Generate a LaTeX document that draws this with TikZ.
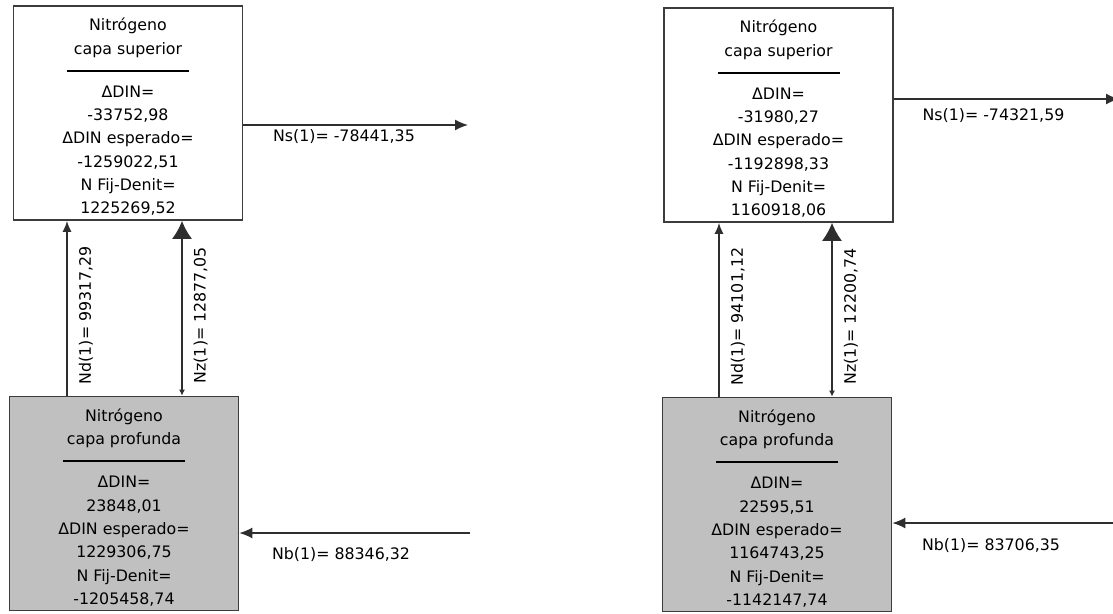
\documentclass[tikz,border=0pt]{standalone}
\usepackage{fontspec}
\setmainfont{DejaVu Sans}
\usetikzlibrary{positioning,arrows.meta}
\definecolor{borde}{HTML}{3C3C3C}
\definecolor{gris}{HTML}{C0C0C0}
\definecolor{linea}{HTML}{2E2E2E}

\begin{document}
\begin{tikzpicture}[x=1pt,y=-1pt,
   capa/.style={draw=borde, line width=1.7pt, minimum width=229pt, minimum height=214pt, inner sep=0pt},
   profunda/.style={capa, fill=gris},
   txt/.style={align=center, inner sep=0pt, font=\fontsize{15.8}{23.3}\selectfont},
   flujo/.style={draw=linea, line width=1.5pt},
   lbl/.style={inner sep=0pt, font=\fontsize{15.8}{18}\selectfont},
   chica/.style={-{Latex[length=11pt,width=9pt]}},
   doble/.style={{Latex[length=6pt,width=6pt]}-{Latex[length=18pt,width=20pt]}},
   lateral/.style={-{Latex[length=13pt,width=11pt]}}]

\useasboundingbox (0,0) rectangle (1113,613);

% cajas
\node[capa] (supA) at (128,113) {};
\node[profunda] (prA) at (124,503.5) {};
\node[capa] (supB) at (778.5,115) {};
\node[profunda] (prB) at (777,504.5) {};

\node[txt, below=13pt of supA.north] (supAt) {Nitrógeno\\capa superior\\\rule[5.8pt]{122pt}{1.8pt}\\[-3.5pt]ΔDIN=\\-33752,98\\ΔDIN esperado=\\-1259022,51\\N Fij-Denit=\\1225269,52};
\node[txt, below=13pt of prA.north] (prAt) {Nitrógeno\\capa profunda\\\rule[5.8pt]{122pt}{1.8pt}\\[-3.5pt]ΔDIN=\\23848,01\\ΔDIN esperado=\\1229306,75\\N Fij-Denit=\\-1205458,74};
\node[txt, below=13pt of supB.north] (supBt) {Nitrógeno\\capa superior\\\rule[5.8pt]{122pt}{1.8pt}\\[-3.5pt]ΔDIN=\\-31980,27\\ΔDIN esperado=\\-1192898,33\\N Fij-Denit=\\1160918,06};
\node[txt, below=13pt of prB.north] (prBt) {Nitrógeno\\capa profunda\\\rule[5.8pt]{122pt}{1.8pt}\\[-3.5pt]ΔDIN=\\22595,51\\ΔDIN esperado=\\1164743,25\\N Fij-Denit=\\-1142147,74};

\coordinate (ndA) at (67,0);
\coordinate (nzA) at (182,0);
\coordinate (ndB) at (719,0);
\coordinate (nzB) at (832,0);
\coordinate (nsA) at (468,125);
\coordinate (nsB) at (1119,99);
\coordinate (nbA) at (470,533);
\coordinate (nbB) at (1116,523);

% flujos verticales
\draw[flujo, chica] (ndA |- prA.north) -- node[lbl, sloped, pos=0.46, below=11pt] (ndAl) {Nd(1)= 99317,29} (ndA |- supA.south);
\draw[flujo, doble] (nzA |- prA.north) -- node[lbl, sloped, pos=0.46, below=11pt] (nzAl) {Nz(1)= 12877,05} (nzA |- supA.south);
\draw[flujo, chica] (ndB |- prB.north) -- node[lbl, sloped, pos=0.46, below=11pt] (ndBl) {Nd(1)= 94101,12} (ndB |- supB.south);
\draw[flujo, doble] (nzB |- prB.north) -- node[lbl, sloped, pos=0.46, below=11pt] (nzBl) {Nz(1)= 12200,74} (nzB |- supB.south);

% flujos laterales
\draw[flujo, lateral] (nsA -| supA.east) -- node[lbl, at start, anchor=north west, xshift=29pt, yshift=-4pt] (nsAl) {Ns(1)= -78441,35} (nsA);
\draw[flujo, lateral] (nsB -| supB.east) -- node[lbl, at start, anchor=north west, xshift=28pt, yshift=-9pt] (nsBl) {Ns(1)= -74321,59} (nsB);
\draw[flujo, lateral] (nbA) -- node[lbl, at end, anchor=north west, xshift=32pt, yshift=-14pt] (nbAl) {Nb(1)= 88346,32} (nbA -| prA.east);
\draw[flujo, lateral] (nbB) -- node[lbl, at end, anchor=north west, xshift=29pt, yshift=-15pt] (nbBl) {Nb(1)= 83706,35} (nbB -| prB.east);

\end{tikzpicture}
\end{document}
